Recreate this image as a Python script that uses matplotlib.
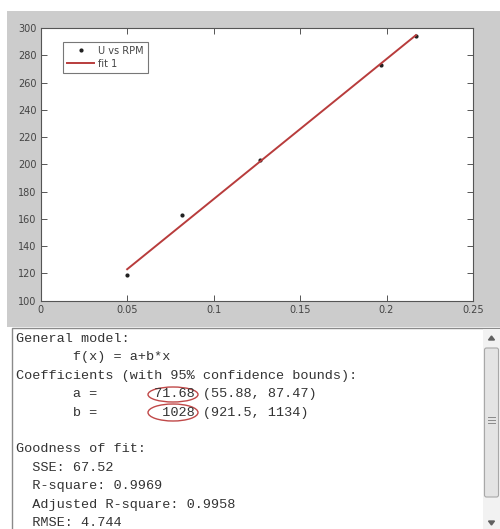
import matplotlib
matplotlib.use('Agg')
import matplotlib.pyplot as plt
import matplotlib.patches as mpatches
import numpy as np

# measured points (U vs RPM)
rpm = [0.050, 0.082, 0.127, 0.197, 0.217]
u = [119, 163, 203, 273, 294]

# fit result f(x) = a + b*x
coef_names = ['a', 'b']
coef_vals = ['71.68', '1028']
coef_lo = ['55.88', '921.5']
coef_hi = ['87.47', '1134']
gof_names = ['SSE', 'R-square', 'Adjusted R-square', 'RMSE']
gof_vals = ['67.52', '0.9969', '0.9958', '4.744']

xticks = [0, 0.05, 0.1, 0.15, 0.2, 0.25]
xlabels = ['0', '0.05', '0.1', '0.15', '0.2', '0.25']
yticks = list(range(100, 301, 20))

W, H = 500, 529
fig = plt.figure(figsize=(W / 100, H / 100), dpi=100)
fig.patch.set_facecolor('white')

# overlay in pixel coordinates for the window decorations
bg = fig.add_axes([0, 0, 1, 1], zorder=0)
bg.set_xlim(0, W)
bg.set_ylim(H, 0)
bg.axis('off')
bg.add_patch(mpatches.Rectangle((7, 11), W - 7, 316, facecolor='#cccccc', edgecolor='none'))

# plot
ax = fig.add_axes([40.7 / W, 1 - 300.7 / H, 432.3 / W, 272.7 / H], zorder=2)
ax.set_facecolor('white')
a = float(coef_vals[0]); b = float(coef_vals[1])
xf = np.array([min(rpm), max(rpm)])
ax.plot(rpm, u, linestyle='none', marker='.', color='#202020', markersize=4, label='U vs RPM')
ax.plot(xf, a + b * xf, color='#b83c3c', linewidth=1.4, label='fit 1')
ax.set_xlim(0, 0.25)
ax.set_ylim(100, 300)
ax.set_xticks(xticks, labels=xlabels)
ax.set_yticks(yticks)
ax.tick_params(direction='in', length=4, width=0.7, color='#555555', labelsize=7,
               labelcolor='#444444', top=True, right=True, pad=3)
for s in ax.spines.values():
	s.set_color('#555555')
	s.set_linewidth(0.8)
leg = ax.legend(loc='upper left', bbox_to_anchor=(0.0516, 0.9487), borderaxespad=0,
                fontsize=7, fancybox=False, handlelength=2.8, handletextpad=0.4,
                borderpad=0.4, labelspacing=0.3, labelcolor='#444444')
leg.get_frame().set_edgecolor('#555555')
leg.get_frame().set_linewidth(0.8)

# text output panel
bg.add_patch(mpatches.Rectangle((12, 328), W, H, facecolor='white', edgecolor='#8a8a8a', linewidth=1))

lines = ['General model:',
         '       f(x) = a+b*x',
         'Coefficients (with 95% confidence bounds):']
for n, v, lo, hi in zip(coef_names, coef_vals, coef_lo, coef_hi):
	lines.append('       %s = %11s (%s, %s)' % (n, v, lo, hi))
lines.append('')
lines.append('Goodness of fit:')
for n, v in zip(gof_names, gof_vals):
	lines.append('  %s: %s' % (n, v))

for i, t in enumerate(lines):
	bg.text(16, 339 + i * 18.4, t, family='Liberation Mono', fontsize=9.7,
	        color='#333333', va='center', ha='left')

# red circles around the coefficients
bg.add_patch(mpatches.Ellipse((173, 394.5), 50, 15, facecolor='none', edgecolor='#c04848', linewidth=1))
bg.add_patch(mpatches.Ellipse((173, 412.5), 50, 17, facecolor='none', edgecolor='#c04848', linewidth=1))

# scrollbar
bg.add_patch(mpatches.Rectangle((483, 329), 17, 200, facecolor='#f2f2f2', edgecolor='none'))
bg.add_patch(mpatches.FancyBboxPatch((484.5, 348), 14, 149, boxstyle='round,pad=0,rounding_size=2',
                                     facecolor='#e4e4e4', edgecolor='#a8a8a8', linewidth=0.8))
for gy in (417, 420, 423):
	bg.plot([488, 495], [gy, gy], color='#8a8a8a', linewidth=0.7)
bg.add_patch(mpatches.Polygon([[488.5, 340], [494.5, 340], [491.5, 336]], closed=True, color='#606060'))
bg.add_patch(mpatches.Polygon([[488.5, 521], [494.5, 521], [491.5, 525]], closed=True, color='#606060'))

fig.savefig('out.png', dpi=100, facecolor='white')
